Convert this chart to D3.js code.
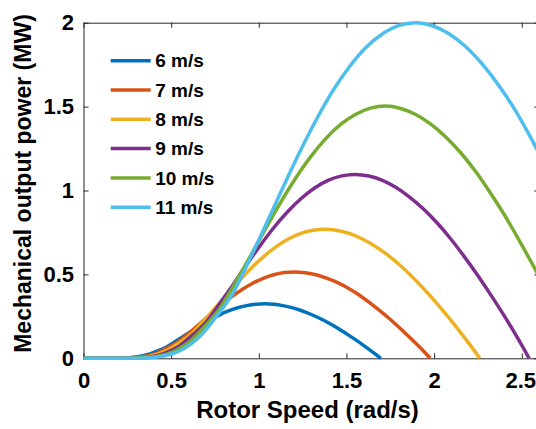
<!DOCTYPE html>
<html>
<head>
<meta charset="utf-8">
<script src="https://cdn.jsdelivr.net/npm/d3@7"></script>
<style>
  html, body { margin: 0; padding: 0; background: #fff; }
  svg { display: block; font-family: "Liberation Sans", Arial, sans-serif; }
</style>
</head>
<body>
<svg id="chart" width="536" height="429"></svg>
<script>
// Wind speeds shown in the legend
const windLabels = ["6 m/s", "7 m/s", "8 m/s", "9 m/s", "10 m/s", "11 m/s"];
const seriesColors = ["#0072BD", "#D95319", "#EDB120", "#7E2F8E", "#77AC30", "#4DBEEE"];

// Rotor speed (rad/s) and mechanical output power (MW) for each wind speed
const omega6  = [0, 0.155, 0.207, 0.259, 0.310, 0.362, 0.414, 0.465, 0.517, 0.569, 0.620, 0.672, 0.724, 0.776, 0.827, 0.879, 0.931, 0.982, 1.034, 1.086, 1.137, 1.189, 1.241, 1.293, 1.344, 1.396, 1.448, 1.499, 1.551, 1.603, 1.654, 1.696];
const power6  = [0, 0, 0.001, 0.003, 0.009, 0.021, 0.041, 0.063, 0.096, 0.130, 0.165, 0.199, 0.231, 0.259, 0.282, 0.301, 0.314, 0.322, 0.325, 0.322, 0.314, 0.302, 0.285, 0.264, 0.240, 0.212, 0.181, 0.147, 0.111, 0.073, 0.034, 0];

const omega7  = [0, 0.181, 0.241, 0.302, 0.362, 0.422, 0.482, 0.543, 0.603, 0.663, 0.724, 0.784, 0.844, 0.905, 0.965, 1.025, 1.085, 1.146, 1.206, 1.266, 1.327, 1.387, 1.447, 1.508, 1.568, 1.628, 1.688, 1.749, 1.809, 1.869, 1.930, 1.978];
const power7  = [0, 0, 0.001, 0.005, 0.014, 0.033, 0.064, 0.100, 0.152, 0.206, 0.262, 0.316, 0.366, 0.410, 0.447, 0.477, 0.498, 0.511, 0.515, 0.510, 0.498, 0.478, 0.452, 0.419, 0.380, 0.335, 0.286, 0.233, 0.176, 0.116, 0.054, 0];

const omega8  = [0, 0.207, 0.276, 0.345, 0.413, 0.482, 0.551, 0.620, 0.689, 0.758, 0.827, 0.896, 0.965, 1.034, 1.102, 1.171, 1.240, 1.309, 1.378, 1.447, 1.516, 1.585, 1.654, 1.723, 1.791, 1.860, 1.929, 1.998, 2.067, 2.136, 2.205, 2.260];
const power8  = [0, 0, 0.002, 0.007, 0.022, 0.050, 0.096, 0.150, 0.227, 0.308, 0.391, 0.471, 0.546, 0.612, 0.667, 0.712, 0.744, 0.763, 0.769, 0.762, 0.744, 0.714, 0.674, 0.625, 0.568, 0.501, 0.428, 0.348, 0.263, 0.174, 0.080, 0];

const omega9  = [0, 0.233, 0.310, 0.388, 0.465, 0.543, 0.620, 0.698, 0.775, 0.853, 0.930, 1.008, 1.085, 1.163, 1.240, 1.318, 1.395, 1.473, 1.550, 1.628, 1.705, 1.783, 1.860, 1.938, 2.015, 2.093, 2.170, 2.248, 2.325, 2.403, 2.480, 2.542];
const power9  = [0, 0, 0.002, 0.010, 0.031, 0.071, 0.137, 0.214, 0.323, 0.438, 0.557, 0.672, 0.778, 0.872, 0.951, 1.015, 1.060, 1.087, 1.096, 1.086, 1.060, 1.018, 0.961, 0.891, 0.809, 0.714, 0.609, 0.495, 0.375, 0.248, 0.114, 0];

const omega10 = [0, 0.258, 0.345, 0.431, 0.517, 0.603, 0.689, 0.775, 0.862, 0.948, 1.034, 1.120, 1.206, 1.292, 1.378, 1.465, 1.551, 1.637, 1.723, 1.809, 1.895, 1.981, 2.068, 2.154, 2.240, 2.326, 2.412, 2.498, 2.585, 2.671];
const power10 = [0, 0, 0.003, 0.014, 0.042, 0.098, 0.188, 0.293, 0.443, 0.601, 0.764, 0.921, 1.067, 1.196, 1.305, 1.392, 1.453, 1.491, 1.503, 1.489, 1.453, 1.396, 1.318, 1.222, 1.109, 0.978, 0.836, 0.679, 0.514, 0.340];

const omega11 = [0, 0.284, 0.379, 0.474, 0.569, 0.663, 0.758, 0.853, 0.948, 1.042, 1.137, 1.232, 1.327, 1.421, 1.516, 1.611, 1.706, 1.800, 1.895, 1.990, 2.085, 2.179, 2.274, 2.369, 2.464, 2.558, 2.653];
const power11 = [0, 0, 0.004, 0.018, 0.056, 0.130, 0.250, 0.390, 0.590, 0.800, 1.016, 1.226, 1.420, 1.592, 1.736, 1.852, 1.934, 1.984, 2.000, 1.982, 1.934, 1.858, 1.754, 1.626, 1.476, 1.302, 1.112];

const omegaSeries = [omega6, omega7, omega8, omega9, omega10, omega11];
const powerSeries = [power6, power7, power8, power9, power10, power11];

// Axis ticks
const xTicks = [0, 0.5, 1, 1.5, 2, 2.5];
const yTicks = [0, 0.5, 1, 1.5, 2];
const xDomain = [0, 2.6];
const yDomain = [0, 2];

const svg = d3.select("#chart");
const plot = { left: 83.5, right: 539.3, top: 22.7, bottom: 358.3 };

const x = d3.scaleLinear().domain(xDomain).range([plot.left, plot.right]);
const y = d3.scaleLinear().domain(yDomain).range([plot.bottom, plot.top]);

svg.append("defs").append("clipPath").attr("id", "plotClip")
  .append("rect")
  .attr("x", plot.left).attr("y", plot.top - 6)
  .attr("width", plot.right - plot.left).attr("height", plot.bottom - plot.top + 10);

const axisColor = "#262626";
const fmt = d => String(d);

function styleAxis(g, showLabels) {
  g.select(".domain").attr("stroke", axisColor).attr("stroke-width", 1);
  g.selectAll(".tick line").attr("stroke", axisColor).attr("stroke-width", 1);
  g.selectAll(".tick text")
    .attr("fill", "#000")
    .style("font-size", "22px")
    .style("font-weight", "bold")
    .style("display", showLabels ? null : "none");
}

// Box with inward ticks on all four sides
svg.append("g")
  .attr("transform", `translate(0,${plot.bottom})`)
  .call(d3.axisBottom(x).tickValues(xTicks).tickFormat(fmt).tickSizeInner(-5).tickSizeOuter(0).tickPadding(14))
  .call(g => styleAxis(g, true))
  // keep the last label inside the right edge of the figure
  .call(g => g.selectAll(".tick text").filter(d => d === 2.5).attr("dx", -1.5));

svg.append("g")
  .attr("transform", `translate(0,${plot.top})`)
  .call(d3.axisTop(x).tickValues(xTicks).tickSizeInner(-5).tickSizeOuter(0))
  .call(g => styleAxis(g, false));

svg.append("g")
  .attr("transform", `translate(${plot.left},0)`)
  .call(d3.axisLeft(y).tickValues(yTicks).tickFormat(fmt).tickSizeInner(-5).tickSizeOuter(0).tickPadding(9.5))
  .call(g => styleAxis(g, true));

svg.append("g")
  .attr("transform", `translate(${plot.right},0)`)
  .call(d3.axisRight(y).tickValues(yTicks).tickSizeInner(-5).tickSizeOuter(0))
  .call(g => styleAxis(g, false));

// Power curves
const line = d3.line()
  .x(d => x(d[0]))
  .y(d => y(d[1]))
  .curve(d3.curveMonotoneX);

const curves = svg.append("g").attr("clip-path", "url(#plotClip)");
omegaSeries.forEach((om, i) => {
  const pts = om.map((w, j) => [w, powerSeries[i][j]]);
  curves.append("path")
    .datum(pts)
    .attr("d", line)
    .attr("fill", "none")
    .attr("stroke", seriesColors[i])
    .attr("stroke-width", 3.5)
    .attr("stroke-linejoin", "round");
});

// Legend
const legend = svg.append("g").attr("transform", "translate(110.7,60.7)");
windLabels.forEach((lab, i) => {
  const row = legend.append("g").attr("transform", `translate(0,${i * 29.3})`);
  row.append("line")
    .attr("x1", 0).attr("x2", 40).attr("y1", 0).attr("y2", 0)
    .attr("stroke", seriesColors[i]).attr("stroke-width", 3.5);
  row.append("text")
    .attr("x", 44.5).attr("y", 0).attr("dy", "0.35em")
    .style("font-size", "19px").style("font-weight", "bold")
    .attr("fill", "#000")
    .text(lab);
});

// Axis titles
svg.append("text")
  .attr("x", 307.5).attr("y", 418)
  .attr("text-anchor", "middle")
  .style("font-size", "24px").style("font-weight", "bold")
  .text("Rotor Speed (rad/s)");

svg.append("text")
  .attr("transform", "translate(31,183.5) rotate(-90)")
  .attr("text-anchor", "middle")
  .style("font-size", "23px").style("font-weight", "bold")
  .text("Mechanical output power (MW)");
</script>
</body>
</html>
